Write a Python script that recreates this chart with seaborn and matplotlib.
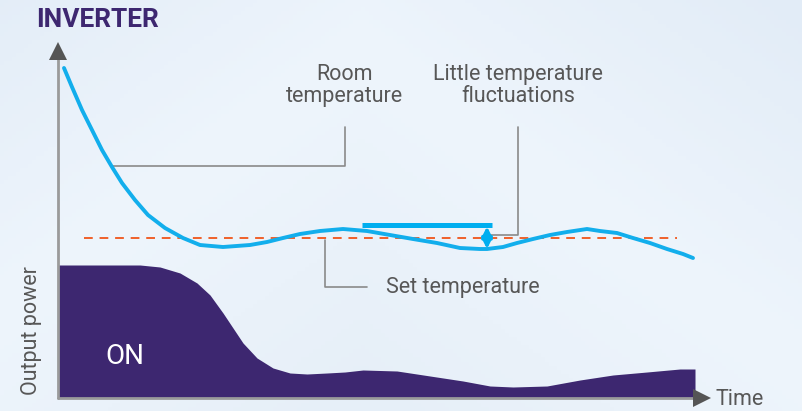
import numpy as np
import seaborn as sns
import matplotlib.pyplot as plt
from matplotlib.colors import LinearSegmentedColormap

# values (pixel-like units, y grows downward)
room_x = [64, 72, 82, 92, 102, 112, 122, 135, 148, 165, 183, 200, 223, 250, 267,
          283, 300, 320, 343, 367, 390, 413, 437, 460, 480, 487, 503, 517, 533,
          550, 567, 587, 600, 617, 633, 650, 667, 683, 693]
room_y = [68, 87, 110, 130, 150, 167, 183, 200, 215, 228, 238, 245, 247, 245, 242,
          238, 234, 231, 229, 231, 235, 239, 243, 248, 249, 249, 247, 243, 239,
          235, 232, 229, 231, 233, 238, 243, 249, 254, 258]

power_x = [58, 100, 140, 160, 180, 197, 210, 223, 233, 243, 257, 273, 290, 307,
           327, 345, 363, 397, 430, 463, 490, 513, 547, 580, 613, 647, 680, 695]
power_y = [265, 265, 265, 267, 273, 283, 295, 313, 328, 343, 358, 368, 373, 374,
           373, 372, 370, 371, 376, 381, 386, 387, 386, 380, 375, 372, 369, 369]

set_temp = 238
set_range = [84, 677]
band_top = 224.5
band_range = [362, 492]

PURPLE = '#3d2770'
BLUE = '#12aeec'
ORANGE = '#f0602a'
GREY_TXT = '#575757'
LEADER = '#8a8a8a'

sns.set_theme(style='white')
plt.rcParams['font.family'] = ['Roboto', 'DejaVu Sans']

fig = plt.figure(figsize=(8.02, 4.11), dpi=100)
ax = fig.add_axes([0, 0, 1, 1])
ax.set_xlim(0, 802)
ax.set_ylim(411, 0)
ax.axis('off')

# soft background gradient
cmap = LinearSegmentedColormap.from_list('bg', ['#e2ecf7', '#eef5fc', '#e6eff8'])
gx, gy = np.meshgrid(np.linspace(0, 1, 200), np.linspace(0, 1, 100))
grad = 0.5 * (1 - np.abs(gx - 0.45) * 1.4) + 0.5 * gy
ax.imshow(grad, cmap=cmap, extent=[0, 802, 411, 0], aspect='auto', zorder=0)

# output power area
ax.fill_between(power_x, power_y, 398, color=PURPLE, lw=0, zorder=2)

# axes with arrows
ax.plot([58, 58], [398, 56], color='#9a9a9a', lw=2, zorder=3)
ax.plot([58, 696], [398, 398], color='#9a9a9a', lw=2, zorder=3)
ax.plot([58], [51], marker='^', ms=13, color='#555555', mew=0, zorder=4)
ax.plot([702], [398], marker='>', ms=13, color='#555555', mew=0, zorder=4)

# set temperature
ax.plot(set_range, [set_temp, set_temp], color=ORANGE, lw=1.4,
        dashes=(4.5, 3.5), zorder=3)

# room temperature curve
sns.lineplot(x=room_x, y=room_y, sort=False, color=BLUE, lw=2.8, ax=ax,
             zorder=5, solid_capstyle='round', solid_joinstyle='round')

# fluctuation band and double arrow
ax.plot(band_range, [band_top, band_top], color='#00aeef', lw=3.6,
        solid_capstyle='butt', zorder=5)
ax.annotate('', xy=(487, 226.5), xytext=(487, 249),
            arrowprops=dict(arrowstyle='<|-|>', color='#00aeef', lw=2.6,
                            mutation_scale=15, shrinkA=0, shrinkB=0), zorder=6)

# leader lines
ax.plot([112, 345, 345], [166, 166, 127], color=LEADER, lw=1.2, zorder=3)
ax.plot([490, 518, 518], [235, 235, 127], color=LEADER, lw=1.2, zorder=3)
ax.plot([325, 325, 367], [240, 287, 287], color=LEADER, lw=1.2, zorder=3)

# texts
ax.text(345, 85.5, 'Room\ntemperature', ha='center', va='center', fontsize=15.5,
        color=GREY_TXT, linespacing=1.1)
ax.text(518, 85.5, 'Little temperature\nfluctuations', ha='center', va='center',
        fontsize=15.5, color=GREY_TXT, linespacing=1.1)
ax.text(386, 287, 'Set temperature', ha='left', va='center', fontsize=15.5,
        color=GREY_TXT)
ax.text(36, 20, 'INVERTER', ha='left', va='center', fontsize=19,
        fontweight='bold', color=PURPLE)
ax.text(105, 356, 'ON', ha='left', va='center', fontsize=20, color='white',
        zorder=6)
ax.text(32, 331, 'Output power', ha='center', va='center', rotation=90,
        fontsize=15.5, color=GREY_TXT)
ax.text(716, 399, 'Time', ha='left', va='center', fontsize=15.5,
        color=GREY_TXT)

fig.savefig('out.png', dpi=100)
plt.close(fig)
